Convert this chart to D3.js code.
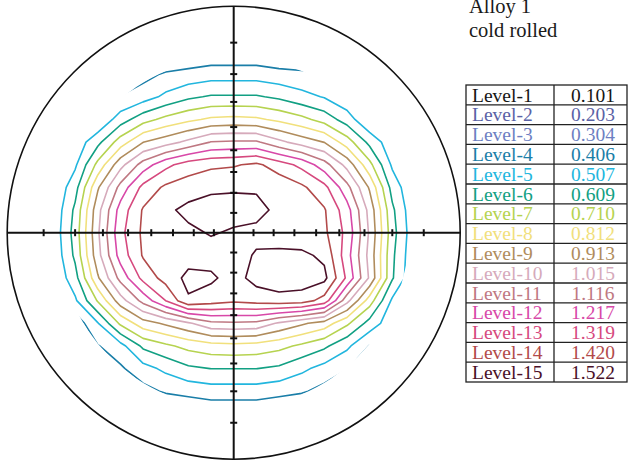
<!DOCTYPE html>
<html>
<head>
<meta charset="utf-8">
<script src="https://cdn.jsdelivr.net/npm/d3@7"></script>
<style>
  html, body { margin: 0; padding: 0; background: #fff; }
  svg { display: block; }
</style>
</head>
<body>
<svg id="chart" width="630" height="461"></svg>
<script>
// ---- data -------------------------------------------------------------
const titleLines = ["Alloy 1", "cold rolled"];

const levelNames = ["Level-1", "Level-2", "Level-3", "Level-4", "Level-5",
  "Level-6", "Level-7", "Level-8", "Level-9", "Level-10", "Level-11",
  "Level-12", "Level-13", "Level-14", "Level-15"];
const levelValues = [0.101, 0.203, 0.304, 0.406, 0.507, 0.609, 0.710, 0.812,
  0.913, 1.015, 1.116, 1.217, 1.319, 1.420, 1.522];
const levelLabels = ["0.101", "0.203", "0.304", "0.406", "0.507", "0.609",
  "0.710", "0.812", "0.913", "1.015", "1.116", "1.217", "1.319", "1.420", "1.522"];
const levelColors = ["#161616", "#5a62a6", "#6d7fc2", "#1a7ea8", "#22b6de",
  "#12a083", "#b6d350", "#f1e07c", "#b08c5c", "#d6aabb", "#bf7882",
  "#d848a8", "#d6497e", "#b24a4a", "#4a1028"];

// pole-figure tilt angles (deg) marked along both axes
const psiTicks = [10, 20, 30, 40, 50, 60, 70, 80];
// outer tilt limit of the measured region (deg)
const psiMax = 75.5;

// sampling positions of the intensity grid, in projected units (circle radius = 1)
const gridU = [-0.8, -0.7, -0.6, -0.5, -0.4, -0.3, -0.2, -0.1, 0, 0.1, 0.2, 0.3, 0.4, 0.5, 0.6, 0.7, 0.8];
const gridV = [0.8, 0.7, 0.6, 0.5, 0.4, 0.3, 0.2, 0.1, 0, -0.1, -0.2, -0.3, -0.4, -0.5, -0.6, -0.7, -0.8];

// pole density (multiples of random), one row per gridV, one column per gridU
const intensity = [
  [0.05, 0.10, 0.15, 0.20, 0.22, 0.27, 0.30, 0.32, 0.32, 0.32, 0.30, 0.28, 0.24, 0.20, 0.15, 0.10, 0.05],
  [0.11, 0.18, 0.24, 0.31, 0.37, 0.42, 0.44, 0.46, 0.46, 0.46, 0.44, 0.43, 0.40, 0.33, 0.24, 0.18, 0.11],
  [0.18, 0.26, 0.34, 0.41, 0.46, 0.53, 0.59, 0.62, 0.62, 0.62, 0.59, 0.54, 0.50, 0.43, 0.34, 0.26, 0.18],
  [0.24, 0.33, 0.41, 0.56, 0.67, 0.74, 0.79, 0.83, 0.84, 0.83, 0.79, 0.74, 0.67, 0.56, 0.41, 0.33, 0.24],
  [0.30, 0.44, 0.58, 0.76, 0.91, 0.97, 1.04, 1.12, 1.13, 1.13, 1.04, 0.97, 0.91, 0.76, 0.58, 0.44, 0.30],
  [0.36, 0.49, 0.74, 0.98, 1.16, 1.29, 1.37, 1.40, 1.41, 1.44, 1.37, 1.29, 1.16, 0.98, 0.74, 0.49, 0.36],
  [0.41, 0.57, 0.90, 1.15, 1.35, 1.44, 1.47, 1.50, 1.51, 1.51, 1.49, 1.44, 1.35, 1.15, 0.90, 0.57, 0.41],
  [0.42, 0.63, 0.98, 1.26, 1.43, 1.50, 1.55, 1.57, 1.56, 1.55, 1.50, 1.45, 1.43, 1.26, 0.98, 0.63, 0.42],
  [0.43, 0.65, 1.00, 1.29, 1.44, 1.47, 1.50, 1.53, 1.51, 1.50, 1.48, 1.45, 1.44, 1.29, 1.00, 0.65, 0.43],
  [0.42, 0.63, 0.98, 1.26, 1.43, 1.46, 1.48, 1.48, 1.49, 1.53, 1.54, 1.545, 1.50, 1.26, 0.98, 0.63, 0.42],
  [0.41, 0.57, 0.90, 1.15, 1.35, 1.46, 1.55, 1.54, 1.48, 1.56, 1.59, 1.58, 1.55, 1.30, 1.00, 0.62, 0.41],
  [0.36, 0.49, 0.72, 0.97, 1.15, 1.32, 1.51, 1.47, 1.44, 1.46, 1.48, 1.47, 1.38, 1.05, 0.76, 0.49, 0.36],
  [0.28, 0.34, 0.50, 0.73, 0.87, 0.93, 1.00, 1.09, 1.10, 1.09, 1.00, 0.93, 0.87, 0.73, 0.57, 0.44, 0.30],
  [0.22, 0.30, 0.40, 0.47, 0.63, 0.69, 0.74, 0.77, 0.78, 0.77, 0.74, 0.69, 0.63, 0.53, 0.40, 0.33, 0.24],
  [0.17, 0.24, 0.32, 0.39, 0.47, 0.53, 0.59, 0.61, 0.61, 0.61, 0.59, 0.53, 0.47, 0.41, 0.34, 0.26, 0.18],
  [0.11, 0.18, 0.24, 0.31, 0.37, 0.42, 0.44, 0.46, 0.46, 0.46, 0.44, 0.42, 0.37, 0.31, 0.24, 0.18, 0.11],
  [0.05, 0.10, 0.15, 0.20, 0.22, 0.27, 0.30, 0.32, 0.32, 0.32, 0.30, 0.27, 0.22, 0.20, 0.15, 0.10, 0.05]
];

// ---- layout -------------------------------------------------------------
const serif = "'Liberation Serif', Tinos, 'Times New Roman', 'DejaVu Serif', serif";
const cx = 233.7, cy = 232.7, R = 226.5;
const svg = d3.select("#chart");

// projected units -> pixels
const x = d3.scaleLinear().domain([-1, 1]).range([cx - R, cx + R]);
const y = d3.scaleLinear().domain([-1, 1]).range([cy + R, cy - R]);
// contour space (sample i sits at i + 0.5) -> projected units
const gx = d3.scaleLinear().domain([0.5, gridU.length - 0.5]).range([gridU[0], gridU[gridU.length - 1]]);
const gy = d3.scaleLinear().domain([0.5, gridV.length - 0.5]).range([gridV[0], gridV[gridV.length - 1]]);
// stereographic radius of a tilt angle
const stereo = psi => Math.tan(psi * Math.PI / 360);

// ---- contours -------------------------------------------------------------
svg.append("clipPath").attr("id", "measured")
  .append("circle").attr("cx", cx).attr("cy", cy)
  .attr("r", x(stereo(psiMax)) - cx);

const contours = d3.contours()
  .size([gridU.length, gridV.length])
  .thresholds(levelValues)(intensity.flat());

const proj = d3.geoTransform({
  point(px, py) { this.stream.point(x(gx(px)), y(gy(py))); }
});
const path = d3.geoPath(proj);

svg.append("g").attr("clip-path", "url(#measured)")
  .selectAll("path").data(contours).join("path")
  .attr("d", path)
  .attr("fill", "none")
  .attr("stroke", d => levelColors[levelValues.indexOf(d.value)])
  .attr("stroke-width", 1.6)
  .attr("stroke-linejoin", "round");

// ---- projection frame -----------------------------------------------------
svg.append("circle").attr("cx", cx).attr("cy", cy).attr("r", R)
  .attr("fill", "none").attr("stroke", "#111").attr("stroke-width", 1.6);

svg.append("line").attr("x1", x(-1)).attr("x2", x(1)).attr("y1", y(0)).attr("y2", y(0))
  .attr("stroke", "#111").attr("stroke-width", 2);
svg.append("line").attr("x1", x(0)).attr("x2", x(0)).attr("y1", y(1)).attr("y2", y(-1))
  .attr("stroke", "#111").attr("stroke-width", 2);

const tickPos = psiTicks.flatMap(p => [stereo(p), -stereo(p)]);
const ticks = svg.append("g").attr("stroke", "#111").attr("stroke-width", 2);
ticks.selectAll(".th").data(tickPos).join("line")
  .attr("x1", d => x(d)).attr("x2", d => x(d))
  .attr("y1", y(0) - 3.5).attr("y2", y(0) + 3.5);
ticks.selectAll(".tv").data(tickPos).join("line")
  .attr("y1", d => y(d)).attr("y2", d => y(d))
  .attr("x1", x(0) - 3.5).attr("x2", x(0) + 3.5);

// ---- title -----------------------------------------------------------------
svg.append("g").selectAll("text").data(titleLines).join("text")
  .attr("x", 469).attr("y", (d, i) => 13 + i * 23.5)
  .attr("font-family", serif)
  .attr("font-size", 20.5).attr("fill", "#1a1a1a")
  .text(d => d);

// ---- level table -------------------------------------------------------------
const tX = 466, tY = 85, tW = 161, tDiv = 554, rowH = 19.8;
const rowY = d3.scaleLinear().domain([0, levelNames.length]).range([tY, tY + rowH * levelNames.length]);
const table = svg.append("g").attr("font-family", serif);
const rows = table.selectAll("g").data(levelNames).join("g");
rows.append("text").attr("x", tX + 6).attr("y", (d, i) => rowY(i) + 16.5)
  .attr("font-size", 19.5).attr("fill", (d, i) => levelColors[i]).text(d => d);
rows.append("text").attr("x", 593).attr("y", (d, i) => rowY(i) + 16.5)
  .attr("text-anchor", "middle")
  .attr("font-size", 19.5).attr("fill", (d, i) => levelColors[i]).text((d, i) => levelLabels[i]);

table.selectAll("line.row").data(d3.range(1, levelNames.length)).join("line")
  .attr("x1", tX).attr("x2", tX + tW)
  .attr("y1", d => rowY(d)).attr("y2", d => rowY(d))
  .attr("stroke", "#222").attr("stroke-width", 1.3);
table.append("line").attr("x1", tDiv).attr("x2", tDiv)
  .attr("y1", rowY(0)).attr("y2", rowY(levelNames.length))
  .attr("stroke", "#222").attr("stroke-width", 1.3);
table.append("rect").attr("x", tX).attr("y", rowY(0))
  .attr("width", tW).attr("height", rowY(levelNames.length) - rowY(0))
  .attr("fill", "none").attr("stroke", "#222").attr("stroke-width", 1.3);
</script>
</body>
</html>
